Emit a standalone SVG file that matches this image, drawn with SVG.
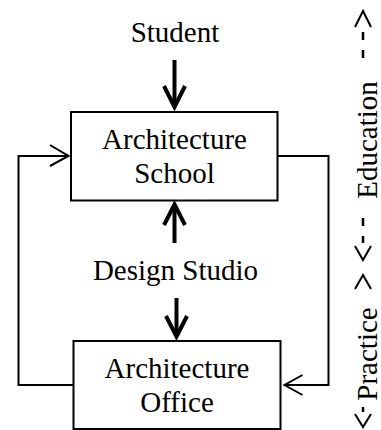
<svg xmlns="http://www.w3.org/2000/svg" width="381" height="430" viewBox="0 0 381 430">
<style>
text{font-family:"Liberation Serif","Times New Roman",Times,"Nimbus Roman","Noto Serif","DejaVu Serif",FreeSerif,serif;font-size:29px;fill:#000}
.box{fill:#fff;stroke:#000;stroke-width:2}
.thin{fill:none;stroke:#000;stroke-width:2;stroke-linejoin:miter}
.thick{fill:none;stroke:#000;stroke-width:4;stroke-linejoin:miter;stroke-miterlimit:10}
.dash{fill:none;stroke:#000;stroke-width:2.5}
</style>
<rect width="381" height="430" fill="#fff"/>
<g id="student"><text x="175" y="42" text-anchor="middle">Student</text></g>
<g id="school">
<rect class="box" x="71" y="112" width="206.5" height="88.5"/>
<text x="174.5" y="149" text-anchor="middle">Architecture</text>
<text x="174.5" y="182.5" text-anchor="middle">School</text>
</g>
<g id="studio"><text x="175.5" y="280" text-anchor="middle">Design Studio</text></g>
<g id="office">
<rect class="box" x="73.5" y="341" width="207" height="88"/>
<text x="177" y="378" text-anchor="middle">Architecture</text>
<text x="177" y="411.5" text-anchor="middle">Office</text>
</g>
<g id="connectors">
<line class="thick" x1="174.5" y1="60" x2="174.5" y2="106"/>
<path class="thick" d="M164,86 L174.5,107 L185,86"/>
<line class="thick" x1="174.5" y1="243" x2="174.5" y2="206"/>
<path class="thick" d="M164,225 L174.5,204.5 L185,225"/>
<line class="thick" x1="176.5" y1="298" x2="176.5" y2="335"/>
<path class="thick" d="M166,316 L176.5,336.5 L187,316"/>
<polyline class="thin" points="73.5,385 18.5,385 18.5,156 69,156"/>
<path class="thin" d="M50,145 L68.5,156 L50,166"/>
<polyline class="thin" points="277.5,156 328.5,156 328.5,385 285,385"/>
<path class="thin" d="M302.5,375 L284.5,385 L302.5,395"/>
</g>
<g id="education">
<text transform="translate(376.5,140) rotate(-90)" text-anchor="middle">Education</text>
<path class="thin" d="M355,27 L363,11 L371,27"/>
<line class="dash" x1="363" y1="32" x2="363" y2="40"/>
<line class="dash" x1="363" y1="50" x2="363" y2="58"/>
<line class="dash" x1="363" y1="218" x2="363" y2="226"/>
<line class="dash" x1="363" y1="236" x2="363" y2="243"/>
<path class="thin" d="M355,246 L363,260 L371,246"/>
</g>
<g id="practice">
<text transform="translate(376.5,354) rotate(-90)" text-anchor="middle">Practice</text>
<path class="thin" d="M355,289 L363,275 L371,289"/>
<line class="dash" x1="363" y1="407" x2="363" y2="412"/>
<path class="thin" d="M355,414 L363,427 L371,414"/>
</g>
</svg>
